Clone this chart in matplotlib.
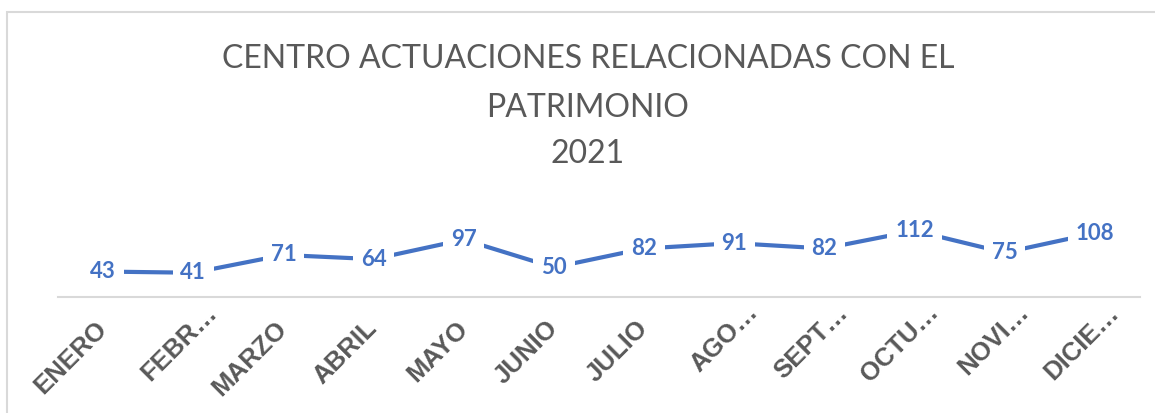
import matplotlib
matplotlib.use("Agg")
import matplotlib.pyplot as plt
from matplotlib.transforms import ScaledTranslation
from matplotlib.patches import Rectangle

months = ["ENERO", "FEBR…", "MARZO", "ABRIL", "MAYO", "JUNIO", "JULIO",
          "AGO…", "SEPT…", "OCTU…", "NOVI…", "DICIE…"]
values = [43, 41, 71, 64, 97, 50, 82, 91, 82, 112, 75, 108]
title_lines = ["CENTRO ACTUACIONES RELACIONADAS CON EL", "PATRIMONIO", "2021"]

W, H = 1155, 413
fig = plt.figure(figsize=(W / 100, H / 100), dpi=100)
fig.patch.set_facecolor("white")

# outer chart frame
fig.patches.append(Rectangle((7 / W, -0.1), 1.2, (H - 12) / H + 0.1,
                             transform=fig.transFigure, fill=False,
                             edgecolor="#d9d9d9", lw=1.5))

ax_left, ax_right = 58 / W, 1140 / W
ax_bottom = (H - 297) / H
ax_top = (H - 226) / H
ax = fig.add_axes([ax_left, ax_bottom, ax_right - ax_left, ax_top - ax_bottom])
ax.set_facecolor("none")

x = list(range(len(months)))
ax.plot(x, values, color="#4472C4", lw=3, solid_capstyle="butt", zorder=2)
for xi, v in zip(x, values):
    ax.text(xi, v, str(v), ha="center", va="center", color="#4472C4",
            fontsize=16, fontweight="bold", family="Lato", zorder=3,
            bbox=dict(boxstyle="square,pad=0.35", fc="white", ec="none"))

ax.set_xlim(-0.5, len(months) - 0.5)
ax.set_ylim(0, 120)
ax.set_yticks([])
for s in ["top", "right", "left"]:
    ax.spines[s].set_visible(False)
ax.spines["bottom"].set_color("#d9d9d9")
ax.spines["bottom"].set_linewidth(1.5)

ax.set_xticks(x)
ax.set_xticklabels(months, rotation=45, ha="right", va="center",
                   rotation_mode="anchor", fontsize=18.5, fontweight="bold",
                   family="Liberation Sans", color="#595959")
ax.tick_params(axis="x", length=0, pad=20)
for lab in ax.get_xticklabels():
    if lab.get_text().endswith("…"):
        lab.set_transform(lab.get_transform() +
                          ScaledTranslation(0.20, 0.16, fig.dpi_scale_trans))

cx = 588 / W
for line, yb in zip(title_lines, [68, 117, 163]):
    fig.text(cx, (H - yb) / H, line, ha="center", va="baseline",
             fontsize=23, family="Lato", fontweight="normal", color="#595959")

fig.savefig("out.png", dpi=100)
